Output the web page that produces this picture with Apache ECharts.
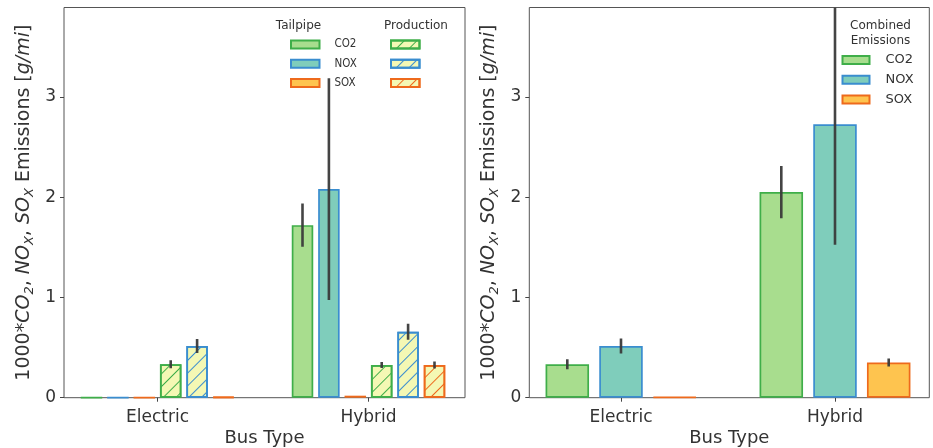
<!DOCTYPE html>
<html><head><meta charset="utf-8">
<script src="https://cdn.jsdelivr.net/npm/echarts@6/dist/echarts.min.js"></script>
<style>html,body{margin:0;padding:0;background:#fff}#c{width:933px;height:448px}</style>
</head><body><div id="c"></div>
<script>
// ---------------- data ----------------
const categories = ['Electric', 'Hybrid'];
const yTicks = [0, 1, 2, 3];
const pollutants = ['CO2', 'NOX', 'SOX'];

// left panel: tailpipe and production
const tailpipeCO2 = [0, 1.72];
const tailpipeCO2Err = [0, 0.215];
const tailpipeNOX = [0, 2.08];
const tailpipeNOXErr = [0, 1.105];
const tailpipeSOX = [0, 0.02];
const tailpipeSOXErr = [0, 0];
const productionCO2 = [0.333, 0.326];
const productionCO2Err = [0.04, 0.03];
const productionNOX = [0.515, 0.658];
const productionNOXErr = [0.07, 0.08];
const productionSOX = [0.008, 0.326];
const productionSOXErr = [0, 0.035];

// right panel: combined
const combinedCO2 = [0.333, 2.05];
const combinedCO2Err = [0.05, 0.26];
const combinedNOX = [0.515, 2.725];
const combinedNOXErr = [0.075, 1.2];
const combinedSOX = [0.008, 0.35];
const combinedSOXErr = [0, 0.04];

// ---------------- style ----------------
const COL = {
  CO2: { fill: '#a8dd8e', edge: '#3fae49' },
  NOX: { fill: '#7fcdbb', edge: '#3a8dcf' },
  SOX: { fill: '#fec44f', edge: '#ee6a1c' }
};
const HATCH_FILL = '#f4f8b4';
const Y_MAX = 3.89;
const FONT = 'DejaVu Sans';
const NARROW = "'DejaVu Sans Condensed', 'Liberation Sans', sans-serif";
const TXT = '#333';
const TOP = 7.5, PLOT_H = 390.2;
const BW_L = 21.5, GAP_L = 4.9, BW_R = 43.5, GAP_R = 10.2, BORDER = 1.7;

const left = { tail: [tailpipeCO2, tailpipeNOX, tailpipeSOX], tailErr: [tailpipeCO2Err, tailpipeNOXErr, tailpipeSOXErr],
               prod: [productionCO2, productionNOX, productionSOX], prodErr: [productionCO2Err, productionNOXErr, productionSOXErr] };
const right = { comb: [combinedCO2, combinedNOX, combinedSOX], combErr: [combinedCO2Err, combinedNOXErr, combinedSOXErr] };

const yName = '1000*{i|CO}{s|2}, {i|NO}{s|X}, {i|SO}{s|X} Emissions [{i|g/mi}]';
const yNameStyle = {
  fontFamily: FONT, fontSize: 19, color: TXT, lineHeight: 24,
  rich: {
    i: { fontFamily: FONT, fontSize: 19, fontStyle: 'italic', color: TXT, lineHeight: 24 },
    s: { fontFamily: FONT, fontSize: 13, fontStyle: 'italic', color: TXT, lineHeight: 13, verticalAlign: 'bottom' }
  }
};

function frameAxes(gi) {
  return {
    x: { gridIndex: gi, type: 'value', min: 0, max: 1, axisLine: { show: false }, axisTick: { show: false },
         axisLabel: { show: false }, splitLine: { show: false },
         name: 'Bus Type', nameLocation: 'middle', nameGap: 32,
         nameTextStyle: { fontFamily: FONT, fontSize: 18, color: TXT } },
    y: { gridIndex: gi, type: 'value', min: 0, max: Y_MAX, interval: 1,
         axisLine: { show: false },
         axisTick: { show: true, length: 4, lineStyle: { color: '#444' }, customValues: yTicks },
         axisLabel: { fontFamily: FONT, fontSize: 17, color: TXT, margin: 8, customValues: yTicks },
         splitLine: { show: false },
         name: yName, nameLocation: 'middle', nameRotate: 90, nameGap: 28, nameTextStyle: yNameStyle }
  };
}
function barAxes(gi) {
  return {
    x: { gridIndex: gi, type: 'category', data: categories, axisLine: { show: false },
         axisTick: { show: true, alignWithLabel: true, length: 4, lineStyle: { color: '#444' } },
         axisLabel: { fontFamily: FONT, fontSize: 17, color: TXT, margin: 11 } },
    y: { gridIndex: gi, type: 'value', min: 0, max: Y_MAX, show: false, splitLine: { show: false } }
  };
}
const fl = frameAxes(0), bl = barAxes(1), fr = frameAxes(2), br = barAxes(3);

function hatch(color) {
  return { symbol: 'rect', symbolSize: 1, color: color, dashArrayX: [1, 0], dashArrayY: [1, 8], rotation: -Math.PI / 4 };
}

const series = [];
pollutants.forEach((p, k) => {
  series.push({ name: p, type: 'bar', xAxisIndex: 1, yAxisIndex: 1, data: left.tail[k],
    barWidth: BW_L, barGap: (GAP_L / BW_L * 100) + '%',
    itemStyle: { color: COL[p].fill, borderColor: COL[p].edge, borderWidth: BORDER } });
});
pollutants.forEach((p, k) => {
  series.push({ name: p + ' production', type: 'bar', xAxisIndex: 1, yAxisIndex: 1, data: left.prod[k],
    barWidth: BW_L, barGap: (GAP_L / BW_L * 100) + '%',
    itemStyle: { color: HATCH_FILL, borderColor: COL[p].edge, borderWidth: BORDER, decal: hatch(COL[p].edge) } });
});
pollutants.forEach((p, k) => {
  series.push({ name: p + ' combined', type: 'bar', xAxisIndex: 3, yAxisIndex: 3, data: right.comb[k],
    barWidth: BW_R, barGap: (GAP_R / BW_R * 100) + '%',
    itemStyle: { color: COL[p].fill, borderColor: COL[p].edge, borderWidth: BORDER } });
});

function errSeries(xi, valsList, errsList, stride) {
  const data = [];
  const n = valsList.length;
  valsList.forEach((vals, k) => vals.forEach((v, i) => data.push([i, v, errsList[k][i], k])));
  return {
    type: 'custom', xAxisIndex: xi, yAxisIndex: xi, z: 5, silent: true, clip: true,
    encode: { x: 0, y: 1 }, data: data,
    renderItem: function (params, api) {
      const i = api.value(0), v = api.value(1), e = api.value(2), k = api.value(3);
      if (!(e > 0)) return null;
      const off = (k - (n - 1) / 2) * stride;
      const p1 = api.coord([i, Math.max(0, v - e)]);
      const p2 = api.coord([i, Math.min(Y_MAX, v + e)]);
      const x = p1[0] + off;
      return { type: 'line', shape: { x1: x, y1: p1[1], x2: x, y2: p2[1] },
               style: { stroke: '#3a3a3a', lineWidth: 2.6, opacity: 0.95 } };
    }
  };
}
series.push(errSeries(1, left.tail.concat(left.prod), left.tailErr.concat(left.prodErr), BW_L + GAP_L));
series.push(errSeries(3, right.comb, right.combErr, BW_R + GAP_R));

const option = {
  animation: false,
  backgroundColor: '#fff',
  grid: [
    { left: 64, top: TOP, width: 401, height: PLOT_H, outerBoundsMode: 'none', containLabel: false, show: true, borderColor: '#555', borderWidth: 1, backgroundColor: 'transparent' },
    { left: 52, top: TOP, width: 422, height: PLOT_H, outerBoundsMode: 'none', containLabel: false },
    { left: 529.3, top: TOP, width: 400, height: PLOT_H, outerBoundsMode: 'none', containLabel: false, show: true, borderColor: '#555', borderWidth: 1, backgroundColor: 'transparent' },
    { left: 514, top: TOP, width: 428, height: PLOT_H, outerBoundsMode: 'none', containLabel: false }
  ],
  xAxis: [fl.x, bl.x, fr.x, br.x],
  yAxis: [fl.y, bl.y, fr.y, br.y],
  legend: [
    { orient: 'vertical', left: 290, top: 37.5, padding: 0, itemWidth: 28.5, itemHeight: 8, itemGap: 5.2, icon: 'rect',
      selectedMode: false, data: pollutants,
      textStyle: { fontFamily: NARROW, fontSize: 11.5, color: TXT, lineHeight: 14, padding: [0, 0, 0, 10] } },
    { orient: 'vertical', left: 390, top: 37.5, padding: 0, itemWidth: 28.5, itemHeight: 8, itemGap: 5.2, icon: 'rect',
      selectedMode: false, data: pollutants.map(p => p + ' production'), formatter: () => ' ',
      textStyle: { fontFamily: FONT, fontSize: 12, color: TXT, lineHeight: 14 } },
    { orient: 'vertical', left: 841.5, top: 53, padding: 0, itemWidth: 27, itemHeight: 8, itemGap: 5.7, icon: 'rect',
      selectedMode: false, data: pollutants.map(p => p + ' combined'), formatter: (name) => name.split(' ')[0],
      textStyle: { fontFamily: FONT, fontSize: 13, color: TXT, lineHeight: 14, padding: [0, 0, 0, 11] } }
  ],
  graphic: [
    { type: 'text', x: 298.5, y: 25.7, style: { text: 'Tailpipe', font: '12px "DejaVu Sans"', fill: TXT, align: 'center', verticalAlign: 'middle' } },
    { type: 'text', x: 416, y: 25.7, style: { text: 'Production', font: '12px "DejaVu Sans"', fill: TXT, align: 'center', verticalAlign: 'middle' } },
    { type: 'text', x: 880.5, y: 33.4, style: { text: 'Combined\nEmissions', font: '12px "DejaVu Sans"', lineHeight: 14.7, fill: TXT, align: 'center', verticalAlign: 'middle' } }
  ],
  series: series
};
const chart = echarts.init(document.getElementById('c'), null, { renderer: 'canvas' });
chart.setOption(option);
</script>
</body></html>
